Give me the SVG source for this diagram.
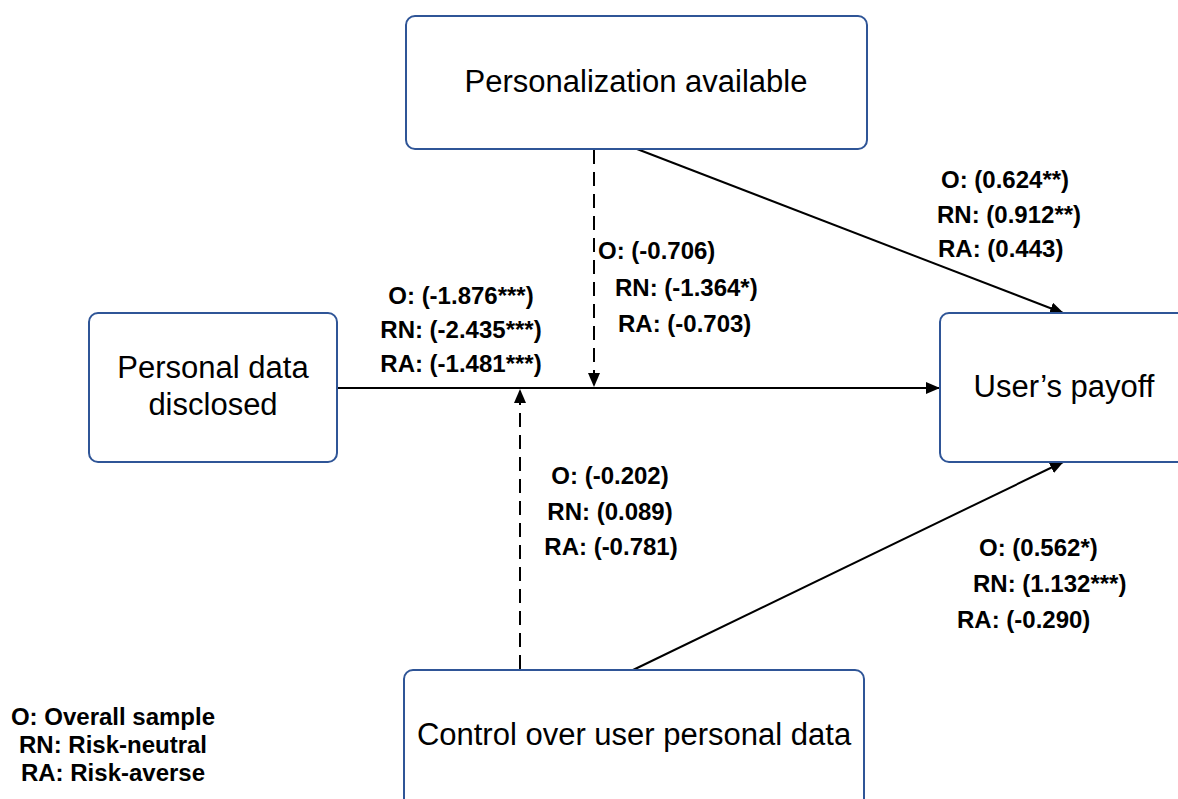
<svg xmlns="http://www.w3.org/2000/svg" width="1178" height="799" viewBox="0 0 1178 799">
<style>
.box{fill:#ffffff;stroke:#2F5597;stroke-width:2}
.nt{font-family:"Liberation Sans",Arial,sans-serif;font-size:31px;fill:#000;text-anchor:middle}
.lb{font-family:"Liberation Sans",Arial,sans-serif;font-size:24px;font-weight:bold;fill:#000}
.mid{text-anchor:middle}
.ln{stroke:#000;stroke-width:2;fill:none}
.dash{stroke-dasharray:14 8}
</style>
<defs>
<marker id="arr" markerUnits="userSpaceOnUse" markerWidth="14" markerHeight="12" refX="13" refY="6" orient="auto" viewBox="0 0 14 12">
<path d="M0,0 L14,6 L0,12 Z" fill="#000"/>
</marker>
</defs>
<rect width="1178" height="799" fill="#ffffff"/>
<g id="connectors">
<line class="ln" x1="337" y1="388" x2="939" y2="388" marker-end="url(#arr)"/>
<line class="ln dash" x1="594" y1="150" x2="594" y2="386" marker-end="url(#arr)"/>
<line class="ln dash" x1="520" y1="669" x2="520" y2="390" marker-end="url(#arr)"/>
<line class="ln" x1="637" y1="149" x2="1063" y2="313" marker-end="url(#arr)"/>
<line class="ln" x1="633" y1="670" x2="1063" y2="462" marker-end="url(#arr)"/>
</g>
<g id="node-personalization">
<rect class="box" x="406" y="16" width="461" height="133" rx="9"/>
<text class="nt" x="636" y="92">Personalization available</text>
</g>
<g id="node-disclosed">
<rect class="box" x="89" y="313" width="248" height="149" rx="9"/>
<text class="nt" x="213" y="378">Personal data</text>
<text class="nt" x="213" y="415">disclosed</text>
</g>
<g id="node-payoff">
<rect class="box" x="940" y="313" width="250" height="149" rx="9"/>
<text class="nt" x="1064" y="397">User’s payoff</text>
</g>
<g id="node-control">
<rect class="box" x="404" y="670" width="460" height="140" rx="9"/>
<text class="nt" x="634" y="745">Control over user personal data</text>
</g>
<g id="labels">
<text class="lb mid" x="461" y="304">O: (-1.876***)</text>
<text class="lb mid" x="461" y="338">RN: (-2.435***)</text>
<text class="lb mid" x="461" y="372">RA: (-1.481***)</text>
<text class="lb" x="598" y="259">O: (-0.706)</text>
<text class="lb" x="615" y="296">RN: (-1.364*)</text>
<text class="lb" x="618" y="332">RA: (-0.703)</text>
<text class="lb" x="941" y="188">O: (0.624**)</text>
<text class="lb" x="937" y="223">RN: (0.912**)</text>
<text class="lb" x="938" y="257">RA: (0.443)</text>
<text class="lb mid" x="610" y="484">O: (-0.202)</text>
<text class="lb mid" x="610" y="520">RN: (0.089)</text>
<text class="lb mid" x="611" y="555">RA: (-0.781)</text>
<text class="lb" x="979" y="556">O: (0.562*)</text>
<text class="lb" x="973" y="592">RN: (1.132***)</text>
<text class="lb" x="957" y="628">RA: (-0.290)</text>
</g>
<g id="legend">
<text class="lb mid" x="113" y="725">O: Overall sample</text>
<text class="lb mid" x="113" y="753">RN: Risk-neutral</text>
<text class="lb mid" x="113" y="781">RA: Risk-averse</text>
</g>
</svg>
